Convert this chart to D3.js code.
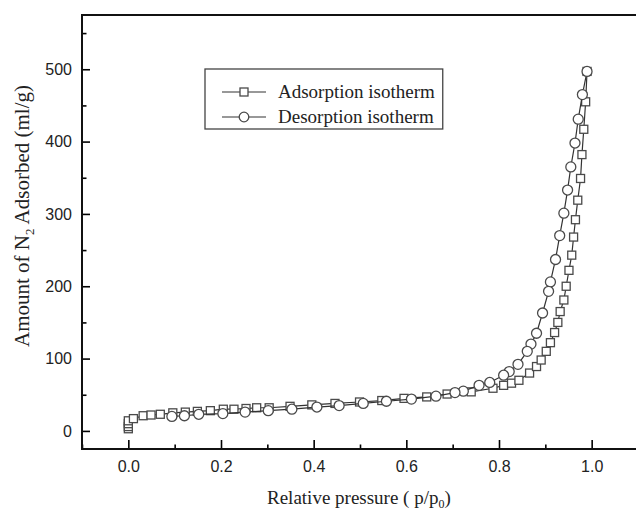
<!DOCTYPE html>
<html><head><meta charset="utf-8">
<script src="https://cdn.jsdelivr.net/npm/d3@7"></script>
<style>body{margin:0;background:#fff}svg{display:block}</style>
</head><body>
<svg id="c" width="636" height="511"></svg>
<script>
const adsorption = [[0,3],[0,6],[0,10],[0,14],[0.011,17],[0.032,21],[0.049,22],[0.069,23],[0.096,25],[0.123,26],[0.149,27],[0.177,28],[0.205,30],[0.228,30],[0.254,31],[0.277,32],[0.304,32],[0.349,34],[0.396,36],[0.446,38],[0.499,40],[0.547,42],[0.595,45],[0.644,47],[0.688,51],[0.74,54],[0.787,59],[0.81,63],[0.827,66],[0.843,70],[0.866,80],[0.881,89],[0.891,98],[0.902,110],[0.911,122],[0.920,136],[0.927,150],[0.932,165],[0.940,181],[0.945,200],[0.951,222],[0.957,243],[0.961,268],[0.965,292],[0.970,319],[0.976,349],[0.979,382],[0.983,417],[0.987,455],[0.99,497]];
const desorption = [[0.99,497],[0.980,465],[0.971,431],[0.964,398],[0.955,365],[0.948,333],[0.940,301],[0.931,270],[0.922,237],[0.911,206],[0.907,193],[0.894,163],[0.881,135],[0.869,120],[0.861,110],[0.841,92],[0.822,82],[0.810,77],[0.780,67],[0.757,63],[0.723,55],[0.705,53],[0.664,48],[0.611,44],[0.557,41],[0.507,38],[0.455,35],[0.407,33],[0.353,30],[0.302,28],[0.252,26],[0.204,24],[0.152,23],[0.121,21],[0.094,20]];
const xTicks = [0.0,0.2,0.4,0.6,0.8,1.0];
const xMinor = [-0.1,0.1,0.3,0.5,0.7,0.9];
const yTicks = [0,100,200,300,400,500];
const yMinor = [50,150,250,350,450,550];
const legendLabels = ["Adsorption isotherm","Desorption isotherm"];

const svg = d3.select("#c");
const L = 82, R = 638, T = 15, B = 449;
const x = d3.scaleLinear().domain([-0.1,1.1]).range([L,R]);
const y = d3.scaleLinear().domain([-25,575]).range([B,T]);

const line = d3.line().x(d=>x(d[0])).y(d=>y(d[1]));
const stroke = "#4a4a4a";

function drawSeries(data, shape){
  svg.append("path").datum(data).attr("d",line).attr("fill","none").attr("stroke","#333").attr("stroke-width",1.2);
  const g = svg.append("g");
  data.forEach(d=>{
    if(shape==="square"){
      g.append("rect").attr("x",x(d[0])-4).attr("y",y(d[1])-4).attr("width",8).attr("height",8)
        .attr("fill","#fff").attr("stroke",stroke).attr("stroke-width",1.3);
    } else {
      g.append("circle").attr("cx",x(d[0])).attr("cy",y(d[1])).attr("r",5)
        .attr("fill","#fff").attr("stroke",stroke).attr("stroke-width",1.3);
    }
  });
}
drawSeries(adsorption,"square");
drawSeries(desorption,"circle");

const sans = "Liberation Sans, Arial, sans-serif";
// axes
const ax = svg.append("g").attr("transform",`translate(0,${B})`)
  .call(d3.axisBottom(x).tickValues(xTicks).tickSize(-9).tickPadding(12).tickFormat(d3.format(".1f")));
ax.select(".domain").remove();
ax.selectAll(".tick line").attr("stroke","#000").attr("stroke-width",1.6);
ax.selectAll("text").attr("font-family",sans).attr("font-size",16).attr("fill","#222");
const axm = svg.append("g").attr("transform",`translate(0,${B})`)
  .call(d3.axisBottom(x).tickValues(xMinor).tickSize(-4.5).tickFormat(""));
axm.select(".domain").remove();
axm.selectAll(".tick line").attr("stroke","#000").attr("stroke-width",1.6);

const ay = svg.append("g").attr("transform",`translate(${L},0)`)
  .call(d3.axisLeft(y).tickValues(yTicks).tickSize(-8).tickPadding(10));
ay.select(".domain").remove();
ay.selectAll(".tick line").attr("stroke","#000").attr("stroke-width",1.6);
ay.selectAll("text").attr("font-family",sans).attr("font-size",16).attr("fill","#222");
const aym = svg.append("g").attr("transform",`translate(${L},0)`)
  .call(d3.axisLeft(y).tickValues(yMinor).tickSize(-4.5).tickFormat(""));
aym.select(".domain").remove();
aym.selectAll(".tick line").attr("stroke","#000").attr("stroke-width",1.6);

// frame
svg.append("path").attr("d",`M${R},${T}H${L}V${B}H${R}`).attr("fill","none").attr("stroke","#111").attr("stroke-width",2);

// axis titles
const serif = "Liberation Serif, Times New Roman, serif";
const xt = svg.append("text").attr("x",267).attr("y",504).attr("text-anchor","start")
  .attr("font-family",serif).attr("font-size",19).attr("fill","#222");
xt.append("tspan").text("Relative pressure ( p/p");
xt.append("tspan").attr("font-size",12).attr("dy",4).text("0");
xt.append("tspan").attr("dy",-4).text(")");

const yt = svg.append("text").attr("transform",`translate(29,216) rotate(-90)`).attr("text-anchor","middle")
  .attr("font-family",serif).attr("font-size",21).attr("fill","#222");
yt.append("tspan").text("Amount of N");
yt.append("tspan").attr("font-size",13).attr("dy",5).text("2");
yt.append("tspan").attr("dy",-5).text(" Adsorbed (ml/g)");

// legend
const lg = svg.append("g");
const lx = 205, ly = 69;
const rows = [ly+23, ly+48];
const texts = legendLabels.map((t,i)=>lg.append("text").attr("x",lx+73).attr("y",rows[i]+6)
  .attr("font-family",serif).attr("font-size",19).attr("fill","#222").text(t));
const tw = d3.max(texts, t=>t.node().getComputedTextLength());
lg.insert("rect",":first-child").attr("x",lx).attr("y",ly).attr("width",73+tw+8).attr("height",60)
  .attr("fill","#fff").attr("stroke","#444").attr("stroke-width",1.3);
rows.forEach((ry,i)=>{
  lg.append("line").attr("x1",lx+17).attr("x2",lx+61).attr("y1",ry).attr("y2",ry).attr("stroke","#333").attr("stroke-width",1.2);
  if(i===0) lg.append("rect").attr("x",lx+39-4).attr("y",ry-4).attr("width",8).attr("height",8).attr("fill","#fff").attr("stroke",stroke).attr("stroke-width",1.3);
  else lg.append("circle").attr("cx",lx+39).attr("cy",ry).attr("r",4.8).attr("fill","#fff").attr("stroke",stroke).attr("stroke-width",1.3);
});
</script>
</body></html>
